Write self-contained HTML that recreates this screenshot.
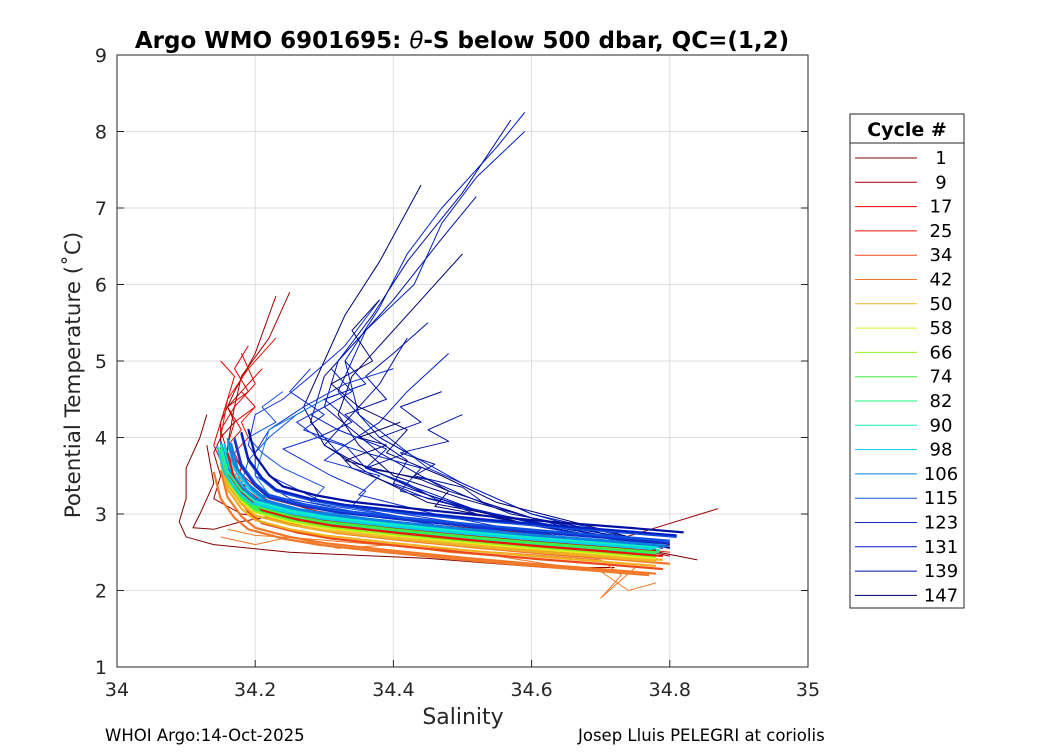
<!DOCTYPE html>
<html><head><meta charset="utf-8"><style>
body{margin:0;background:#fff;}
svg text{font-family:"DejaVu Sans","Liberation Sans",sans-serif;}
</style></head><body>
<svg id="chart" width="1050" height="750" xmlns="http://www.w3.org/2000/svg">
<rect width="1050" height="750" fill="#fff"/>
<rect x="117" y="55" width="691" height="612" fill="#fff" stroke="none"/>
<g id="grid"></g>
<g id="marks"></g>
<rect x="117" y="55" width="691" height="612" fill="none" stroke="#262626" stroke-width="1"/>
<g id="ticks"></g>
<text x="462" y="48" text-anchor="middle" font-size="23" font-weight="bold">Argo WMO 6901695: <tspan font-style="italic" font-weight="normal">θ</tspan>-S below 500 dbar,  QC=(1,2)</text>
<text x="463" y="724" text-anchor="middle" font-size="22" fill="#262626">Salinity</text>
<text transform="translate(80,375) rotate(-90)" text-anchor="middle" font-size="21.5" fill="#262626">Potential Temperature (˚C)</text>
<text x="105" y="741" font-size="16.5">WHOI Argo:14-Oct-2025</text>
<text x="578" y="741" font-size="16.5">Josep Lluis PELEGRI at coriolis</text>
<g id="legend">
<rect x="850" y="114" width="114" height="494" fill="#fff" stroke="#262626"/>
<line x1="850" y1="143" x2="964" y2="143" stroke="#262626"/>
<text x="907" y="136" text-anchor="middle" font-size="19" font-weight="bold">Cycle #</text>
</g>
</svg>
<script>
const legendCycles=[1,9,17,25,34,42,50,58,66,74,82,90,98,106,115,123,131,139,147];
const legendColors=["#800000","#a00000","#e00000","#e81808","#f04818","#f07828","#f0b020","#e0f020","#90f020","#40f040","#20f080","#10f0c0","#00d0f0","#1080e0","#1050e0","#1030d0","#0020c0","#0010a0","#000070"];
const xTicks=[34,34.2,34.4,34.6,34.8,35];
const xTickLabels=["34","34.2","34.4","34.6","34.8","35"];
const yTicks=[1,2,3,4,5,6,7,8,9];
const baseS=[34.15,34.16,34.18,34.2,34.25,34.3,34.4,34.5,34.6,34.7,34.78];
const baseT=[3.85,3.5,3.25,3.1,2.98,2.9,2.8,2.71,2.63,2.56,2.5];
const bandColor=[4,5,5,6,6,7,8,9,10,10,11,11,12,12,12,13,13,14,14,15,2,3,5,6,9,11,12,13,16,17];
const bandDS=[0.01,0.0,0.02,0.0,0.01,0.0,0.0,0.0,0.0,0.005,0.0,0.005,0.0,0.005,0.01,0.0,0.01,0.02,0.03,0.02,0.0,0.01,-0.01,0.0,0.0,0.0,-0.005,0.015,0.03,0.04];
const bandDT=[-0.22,-0.28,-0.15,-0.18,-0.1,-0.08,-0.06,-0.04,-0.02,0.0,0.02,0.03,0.05,0.07,0.09,0.1,0.14,0.15,0.2,0.12,0.02,-0.05,-0.3,-0.12,0.0,0.06,0.04,0.08,0.22,0.26];
const profColor=[1,1,2,2,3,0,0,16,16,17,17,18,18,15,15,14,13,16,17,5,5,
 17,18,16,17,15,18,16,17,14,15,2,2,1,3];
const profS=[
[34.25,34.22,34.18,34.17,34.16,34.16,34.2,34.3,34.5,34.7,34.87],
[34.23,34.2,34.17,34.15,34.15,34.17,34.25,34.4,34.6,34.75,34.8],
[34.15,34.17,34.16,34.15,34.14,34.16,34.22,34.35,34.55,34.7,34.76],
[34.18,34.2,34.17,34.15,34.16,34.18,34.25,34.4,34.55,34.68,34.78],
[34.23,34.19,34.16,34.15,34.15,34.18,34.24,34.38,34.56,34.7,34.8],
[34.13,34.12,34.1,34.1,34.09,34.1,34.14,34.25,34.45,34.62,34.72],
[34.13,34.14,34.12,34.11,34.14,34.18,34.24,34.4,34.6,34.7,34.84],
[34.59,34.55,34.47,34.42,34.38,34.33,34.35,34.45,34.6,34.72,34.8],
[34.59,34.52,34.47,34.43,34.36,34.32,34.38,34.5,34.6,34.72,34.79],
[34.57,34.5,34.42,34.37,34.32,34.3,34.38,34.48,34.6,34.7,34.78],
[34.52,34.47,34.4,34.35,34.3,34.28,34.34,34.45,34.58,34.7,34.79],
[34.44,34.38,34.33,34.3,34.27,34.3,34.37,34.45,34.6,34.72,34.8],
[34.5,34.44,34.38,34.34,34.32,34.35,34.4,34.5,34.6,34.7,34.78],
[34.38,34.33,34.28,34.24,34.2,34.19,34.22,34.3,34.45,34.62,34.77],
[34.4,34.33,34.27,34.22,34.2,34.2,34.25,34.36,34.5,34.65,34.78],
[34.36,34.3,34.26,34.22,34.19,34.18,34.21,34.32,34.48,34.63,34.77],
[34.3,34.26,34.22,34.21,34.2,34.22,34.28,34.4,34.55,34.68,34.78],
[34.48,34.42,34.38,34.33,34.36,34.42,34.46,34.52,34.6,34.7,34.79],
[34.42,34.38,34.34,34.3,34.34,34.4,34.45,34.52,34.62,34.72,34.8],
[34.15,34.2,34.25,34.32,34.4,34.48,34.55,34.62,34.7,34.74,34.78],
[34.16,34.2,34.27,34.35,34.45,34.55,34.63,34.7,34.73,34.7,34.75],
[34.45,34.4,34.36,34.39,34.33,34.37,34.42,34.4,34.5,34.62,34.78],
[34.38,34.34,34.37,34.31,34.35,34.42,34.39,34.47,34.55,34.68,34.79],
[34.33,34.36,34.3,34.34,34.29,34.36,34.44,34.41,34.52,34.66,34.78],
[34.47,34.41,34.44,34.38,34.42,34.36,34.45,34.5,34.57,34.69,34.8],
[34.28,34.25,34.3,34.27,34.33,34.3,34.38,34.35,34.46,34.6,34.76],
[34.41,34.35,34.39,34.33,34.37,34.44,34.48,34.46,34.55,34.67,34.79],
[34.35,34.31,34.34,34.28,34.32,34.39,34.36,34.43,34.52,34.64,34.78],
[34.5,34.45,34.48,34.41,34.46,34.43,34.5,34.53,34.6,34.7,34.8],
[34.24,34.21,34.23,34.19,34.21,34.24,34.3,34.28,34.42,34.6,34.77],
[34.3,34.26,34.29,34.24,34.27,34.31,34.36,34.34,34.47,34.62,34.78],
[34.19,34.17,34.19,34.16,34.18,34.16,34.17,34.22,34.35,34.55,34.76],
[34.21,34.18,34.2,34.17,34.16,34.18,34.17,34.2,34.32,34.5,34.74],
[34.18,34.16,34.17,34.15,34.14,34.15,34.14,34.18,34.3,34.5,34.72],
[34.2,34.18,34.19,34.17,34.18,34.16,34.18,34.24,34.38,34.55,34.76]];
const profT=[
[5.9,5.3,4.8,4.4,3.9,3.4,3.05,2.9,2.75,2.6,3.07],
[5.85,5.1,4.6,4.2,3.7,3.3,3.0,2.82,2.65,2.55,2.45],
[5.0,4.8,4.5,4.2,3.9,3.5,3.1,2.85,2.7,2.55,2.45],
[5.1,4.7,4.4,4.1,3.8,3.4,3.0,2.75,2.62,2.55,2.4],
[5.3,4.9,4.5,4.0,3.7,3.3,3.05,2.88,2.7,2.6,2.5],
[4.3,4.0,3.6,3.2,2.9,2.7,2.6,2.5,2.42,2.3,2.3],
[3.9,3.4,3.0,2.82,2.8,2.9,3.0,2.9,2.75,2.65,2.4],
[8.25,7.8,7.0,6.4,5.7,5.0,4.3,3.6,3.0,2.75,2.55],
[8.0,7.4,6.8,6.0,5.4,4.6,4.0,3.4,3.0,2.7,2.6],
[8.15,7.2,6.3,5.6,5.0,4.4,3.8,3.3,2.95,2.7,2.55],
[7.15,6.6,5.8,5.3,4.8,4.2,3.6,3.2,2.9,2.7,2.55],
[7.3,6.3,5.6,5.0,4.4,3.9,3.5,3.15,2.9,2.72,2.6],
[6.4,5.8,5.2,4.8,4.3,3.9,3.5,3.2,2.95,2.75,2.6],
[5.8,5.2,4.8,4.5,4.3,3.9,3.5,3.15,2.9,2.7,2.5],
[4.9,4.7,4.4,4.1,3.8,3.5,3.2,3.0,2.8,2.65,2.5],
[4.7,4.5,4.3,4.0,3.7,3.4,3.1,2.9,2.75,2.62,2.48],
[4.5,4.3,4.1,3.8,3.5,3.25,3.05,2.9,2.75,2.6,2.5],
[5.1,4.6,4.2,3.9,3.6,3.4,3.2,3.0,2.85,2.7,2.6],
[5.3,4.7,4.3,3.9,3.7,3.45,3.25,3.05,2.85,2.7,2.55],
[2.7,2.6,2.7,2.55,2.6,2.5,2.45,2.35,2.25,2.0,2.1],
[2.8,2.72,2.68,2.62,2.55,2.5,2.45,2.4,2.2,1.9,2.3],
[5.5,5.1,4.8,4.5,4.3,4.0,3.7,3.4,3.1,2.85,2.6],
[5.8,5.4,5.0,4.7,4.4,4.1,3.8,3.5,3.15,2.85,2.58],
[5.0,4.7,4.5,4.2,4.0,3.8,3.6,3.3,3.05,2.8,2.57],
[4.6,4.4,4.2,4.0,3.8,3.6,3.45,3.25,3.0,2.8,2.56],
[4.9,4.6,4.3,4.1,3.9,3.7,3.5,3.25,3.0,2.75,2.55],
[4.2,4.0,3.9,3.7,3.6,3.45,3.3,3.1,2.95,2.75,2.57],
[5.3,4.9,4.6,4.3,4.1,3.85,3.6,3.35,3.05,2.8,2.56],
[4.3,4.1,3.95,3.8,3.65,3.5,3.35,3.15,2.95,2.75,2.58],
[4.6,4.4,4.2,4.0,3.8,3.6,3.35,3.15,2.95,2.72,2.5],
[4.4,4.2,4.0,3.85,3.7,3.5,3.3,3.1,2.92,2.72,2.52],
[5.2,4.9,4.6,4.4,4.1,3.9,3.6,3.2,2.9,2.7,2.5],
[4.9,4.6,4.4,4.2,3.9,3.6,3.3,3.05,2.85,2.65,2.45],
[4.6,4.4,4.2,4.0,3.8,3.5,3.2,3.0,2.85,2.62,2.42],
[4.4,4.2,4.0,3.8,3.6,3.4,3.2,3.0,2.82,2.62,2.45]];
const NS="http://www.w3.org/2000/svg";
const X0=117,X1=808,Y0=667,Y1=55;
function xs(s){return X0+(s-34)/(35-34)*(X1-X0);}
function yt(t){return Y0-(t-1)/(9-1)*(Y0-Y1);}
function mk(tag,attrs,parent){const e=document.createElementNS(NS,tag);for(const k in attrs)e.setAttribute(k,attrs[k]);parent.appendChild(e);return e;}
const grid=document.getElementById('grid'),ticks=document.getElementById('ticks'),marks=document.getElementById('marks'),leg=document.getElementById('legend');
xTicks.forEach((v,i)=>{
 const l=mk('line',{x1:xs(v),x2:xs(v),y1:Y1,y2:Y0,stroke:'#dedede'},grid);
 
 
 mk('line',{x1:xs(v),x2:xs(v),y1:Y0,y2:Y0-7,stroke:'#262626'},ticks);
 const t=mk('text',{x:xs(v),y:696,'text-anchor':'middle','font-size':19,fill:'#262626'},ticks);
 t.textContent=xTickLabels[i];
 
 
});
yTicks.forEach(v=>{
 const l=mk('line',{x1:X0,x2:X1,y1:yt(v),y2:yt(v),stroke:'#dedede'},grid);
 
 
 mk('line',{x1:X0,x2:X0+7,y1:yt(v),y2:yt(v),stroke:'#262626'},ticks);
 mk('line',{x1:X1,x2:X1-7,y1:yt(v),y2:yt(v),stroke:'#262626'},ticks);
 const t=mk('text',{x:107,y:yt(v)+7,'text-anchor':'end','font-size':19,fill:'#262626'},ticks);
 t.textContent=String(v);
 
 
});
function poly(S,T,color,w){
 return mk('polyline',{points:S.map((s,i)=>xs(s)+','+yt(T[i])).join(' '),fill:'none',stroke:color,'stroke-width':w,'stroke-linejoin':'round'},marks);
}
profS.forEach((S,k)=>{
 const p=poly(S,profT[k],legendColors[profColor[k]],1);
 
 
});
bandColor.forEach((c,k)=>{
 const S=baseS.map(s=>s+bandDS[k]);
 const T=baseT.map(t=>t+bandDT[k]);
 const p=poly(S,T,legendColors[c],2.2);
 
 
});
legendCycles.forEach((c,i)=>{
 const y=158+i*24.3;
 const g=mk('g',{},leg);
 
 
 mk('line',{x1:855,x2:917,y1:y,y2:y,stroke:legendColors[i],'stroke-width':1},g);
 const t=mk('text',{x:941,y:y+6,'text-anchor':'middle','font-size':18},g);
 t.textContent=String(c);
});
</script>
</body></html>
